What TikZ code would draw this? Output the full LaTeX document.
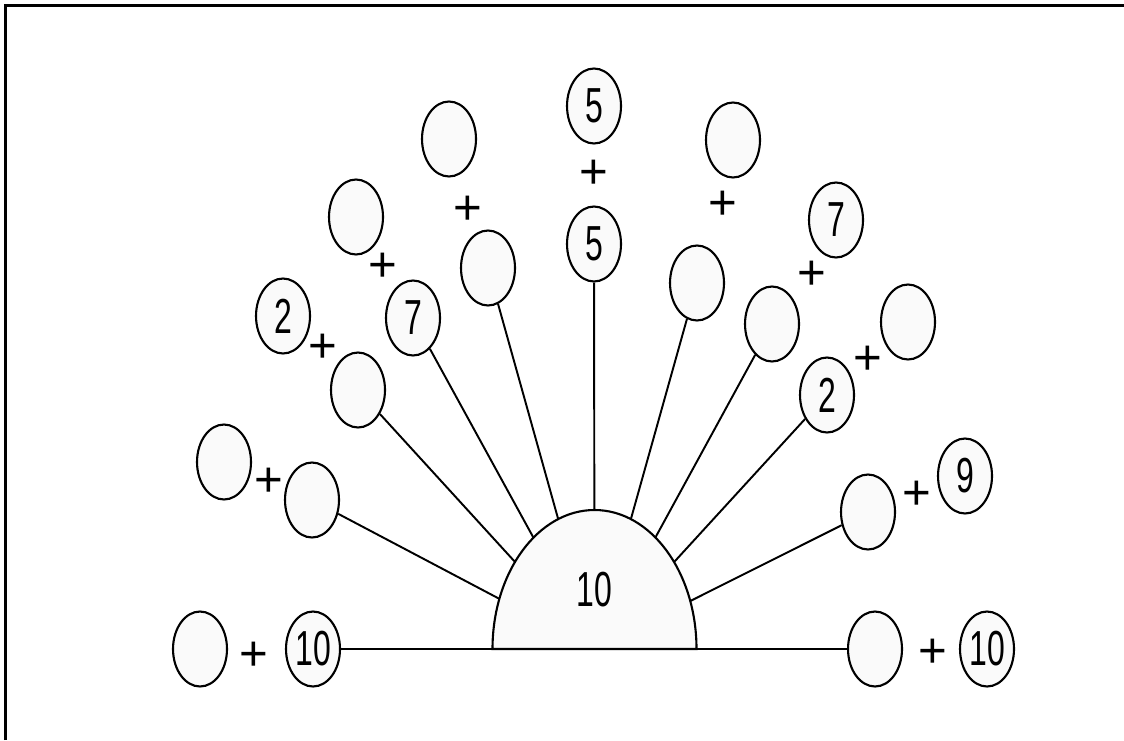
\documentclass[tikz,border=0pt]{standalone}
\usepackage{fontspec}
\usetikzlibrary{shapes.geometric}
\newfontfamily\numfont[FakeStretch=0.65]{Liberation Sans}
\newfontfamily\plusfont{Liberation Sans}

\begin{document}
\begin{tikzpicture}[x=0.02cm,y=-0.02cm,
        oval/.style={ellipse,draw,line width=1.2pt,fill=black!2,minimum width=1.08cm,minimum height=1.5cm,inner sep=0pt,font=\numfont\fontsize{28}{30}\selectfont},
        plussign/.style={inner sep=0pt,font=\plusfont\fontsize{28}{30}\selectfont},
        spoke/.style={line width=1.1pt}
      ]
        \useasboundingbox (0,0) rectangle (1124,740);
        \draw[line width=1.7pt] (5.5,740) -- (5.5,5.5) -- (1124,5.5);
        \coordinate (hub) at (594.5,649);
        % left side
        \node[oval] (eA) at (200,649) {};
        \node[plussign] (pA) at (254,656) {+};
        \node[oval] (tenL) at (313,649) {10};
        \node[oval] (eB) at (224,462) {};
        \node[plussign] (pB) at (269,482) {+};
        \node[oval] (eB2) at (312,500) {};
        \node[oval] (twoL) at (283,316) {2};
        \node[plussign] (pC) at (323,348) {+};
        \node[oval] (eC) at (358,390) {};
        \node[oval] (eD) at (356,217) {};
        \node[plussign] (pD) at (383,267) {+};
        \node[oval] (sevenL) at (413,318) {7};
        \node[oval] (eE) at (449,139) {};
        \node[plussign] (pE) at (468,210) {+};
        \node[oval] (eE2) at (488,268) {};
        % top
        \node[oval] (fiveT) at (594,106) {5};
        \node[plussign] (pF) at (594,174) {+};
        \node[oval] (fiveB) at (594,244) {5};
        % right side
        \node[oval] (eG) at (733,140) {};
        \node[plussign] (pG) at (723,205) {+};
        \node[oval] (eG2) at (697,283) {};
        \node[oval] (sevenR) at (836,220) {7};
        \node[plussign] (pH) at (812,275) {+};
        \node[oval] (eH) at (772,324) {};
        \node[oval] (eI) at (908,322) {};
        \node[plussign] (pI) at (868,360) {+};
        \node[oval] (twoR) at (827,395) {2};
        \node[oval] (nineR) at (965,476) {9};
        \node[plussign] (pJ) at (917,495) {+};
        \node[oval] (eJ) at (868,512) {};
        \node[oval] (eK) at (875,649) {};
        \node[plussign] (pK) at (933,653) {+};
        \node[oval] (tenR) at (987,649) {10};
        % spokes
        \draw[spoke] (eB2)--(hub); \draw[spoke] (eC)--(hub); \draw[spoke] (sevenL)--(hub);
        \draw[spoke] (eE2)--(hub); \draw[spoke] (fiveB)--(hub); \draw[spoke] (eG2)--(hub);
        \draw[spoke] (eH)--(hub); \draw[spoke] (twoR)--(hub); \draw[spoke] (eJ)--(hub);
        % half dome
        \draw[line width=1.2pt,fill=black!2] (492.5,649) arc[start angle=180,end angle=360,x radius=102,y radius=139] -- cycle;
        \node[font=\numfont\fontsize{28}{30}\selectfont] (big) at (594,590) {10};
        \draw[spoke] (tenL)--(eK);
      \end{tikzpicture}
\end{document}
